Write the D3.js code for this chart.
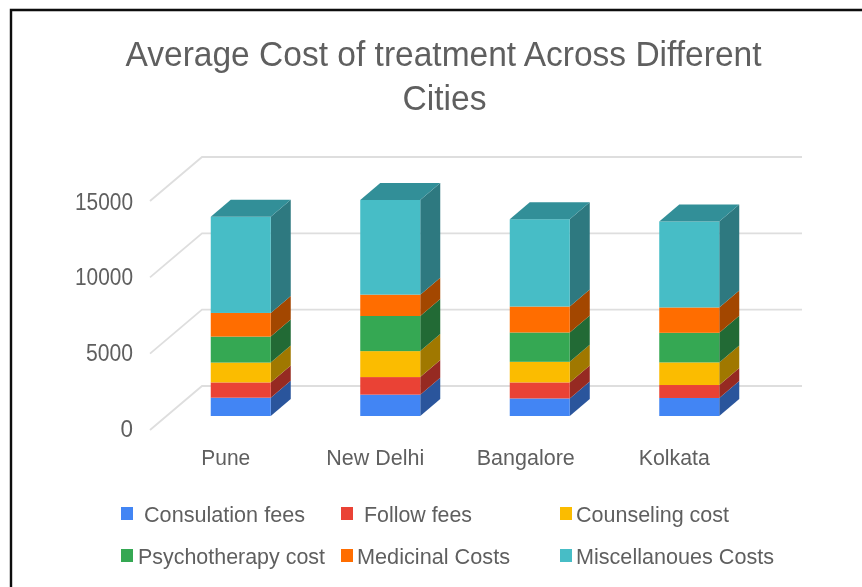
<!DOCTYPE html>
<html><head><meta charset="utf-8">
<script src="https://cdnjs.cloudflare.com/ajax/libs/d3/7.8.5/d3.min.js"></script>
<style>html,body{margin:0;padding:0;background:#fff}svg{display:block}text{font-family:"Liberation Sans",Arial,sans-serif}</style>
</head><body><div id="chart"></div>
<script>
const cities = ["Pune","New Delhi","Bangalore","Kolkata"];
const seriesNames = ["Consulation fees","Follow fees","Counseling cost","Psychotherapy cost","Medicinal Costs","Miscellanoues Costs"];
const consultation = [1200,1400,1150,1180];
const followUp = [1000,1150,1050,850];
const counseling = [1300,1700,1350,1480];
const psychotherapy = [1700,2300,1920,1940];
const medicinal = [1550,1400,1700,1660];
const miscellaneous = [6300,6200,5720,5630];
const seriesValues = [consultation,followUp,counseling,psychotherapy,medicinal,miscellaneous];
const frontColors = ["#4285f4","#ea4335","#fbbc04","#34a853","#ff6d01","#46bdc6"];
const sideColors = ["#2a559c","#962b23","#a07802","#216b35","#a34601","#2d7980"];
const topColor = "#338f98";
const yTicks = [0,5000,10000,15000];

const W=862,H=587;
const svg=d3.select("#chart").append("svg").attr("width",W).attr("height",H);
const soft=svg.append("defs").append("filter").attr("id","soft")
  .attr("filterUnits","userSpaceOnUse").attr("x",0).attr("y",0).attr("width",W).attr("height",H);
soft.append("feGaussianBlur").attr("stdDeviation",0.5);
const root=svg.append("g").attr("filter","url(#soft)");

root.append("path").attr("d","M11 587V10H862").attr("fill","none").attr("stroke","#111").attr("stroke-width",2.4);

const title=["Average Cost of treatment Across Different","Cities"];
root.selectAll(".t").data(title).join("text").attr("x",(d,i)=>i?444.5:443.5).attr("y",(d,i)=>66+i*44)
 .attr("text-anchor","middle").attr("fill","#5f5f5f").attr("font-size",35)
 .attr("textLength",(d,i)=>i?84:636).attr("lengthAdjust","spacingAndGlyphs").text(d=>d);

const y=d3.scaleLinear().domain([0,15000]).range([386,157]);
const depth={x:52,y:-44};
const x=d3.scaleBand().domain(cities).range([166,764]);
const barW=60, bd={x:20,y:-17};
const barBase=416;
const h=v=>y(0)-y(v);

root.selectAll(".grid").data(yTicks).join("path").attr("fill","none").attr("stroke","#dedede").attr("stroke-width",1.8)
 .attr("d",d=>`M${202-depth.x} ${y(d)-depth.y}L202 ${y(d)}L802 ${y(d)}`);

const axis=d3.axisLeft(y).tickValues(yTicks).tickSize(0).tickFormat(d3.format("d"));
const axisG=root.append("g").attr("transform","translate(133,0)").call(axis);
axisG.select(".domain").remove();
axisG.selectAll("text").attr("font-size",24).attr("fill","#5f5f5f")
 .attr("text-anchor","end").attr("x",0).attr("dy",0)
 .attr("textLength",d=>[12.5,47,58,58][yTicks.indexOf(d)]).attr("lengthAdjust","spacingAndGlyphs")
 .attr("transform",d=>`translate(0,${-y(d)+[436.5,360,284.5,209][yTicks.indexOf(d)]})`);

const bars=root.selectAll(".city").data(cities).join("g");
bars.each(function(c,ci){
  const g=d3.select(this), x0=x(c)+x.bandwidth()/2-barW/2;
  let cum=0;
  seriesValues.forEach((vals,si)=>{
    const v=vals[ci], yb=barBase-h(cum), yt=barBase-h(cum+v);
    g.append("path").attr("fill",sideColors[si]).attr("d",`M${x0+barW} ${yb}l${bd.x} ${bd.y}V${yt+bd.y}l${-bd.x} ${-bd.y}Z`);
    g.append("rect").attr("x",x0).attr("y",yt).attr("width",barW).attr("height",yb-yt).attr("fill",frontColors[si]);
    cum+=v;
    if(si===seriesValues.length-1)
      g.append("path").attr("fill",topColor).attr("d",`M${x0} ${yt}l${bd.x} ${bd.y}h${barW}l${-bd.x} ${-bd.y}Z`);
  });
  root.append("text").attr("x",x0+barW/2-15+(ci===2?1:0)).attr("y",465).attr("text-anchor","middle")
   .attr("font-size",22).attr("fill","#5f5f5f").attr("textLength",[49,98,98,71][ci]).attr("lengthAdjust","spacingAndGlyphs").text(c);
});

const tx=[144,364,576,138,357,576], tw=[161,108,153,187,153,198];
const sx=[121,341,560,121,341,560];
const leg=root.selectAll(".leg").data(seriesNames).join("g");
leg.append("rect").attr("x",(d,i)=>sx[i]).attr("y",(d,i)=>i<3?507:549)
 .attr("width",12).attr("height",13).attr("fill",(d,i)=>frontColors[i]);
leg.append("text").attr("x",(d,i)=>tx[i]).attr("y",(d,i)=>i<3?521.5:563.5)
 .attr("font-size",22.5).attr("fill","#5f5f5f").attr("textLength",(d,i)=>tw[i]).attr("lengthAdjust","spacingAndGlyphs").text(d=>d);
</script></body></html>
